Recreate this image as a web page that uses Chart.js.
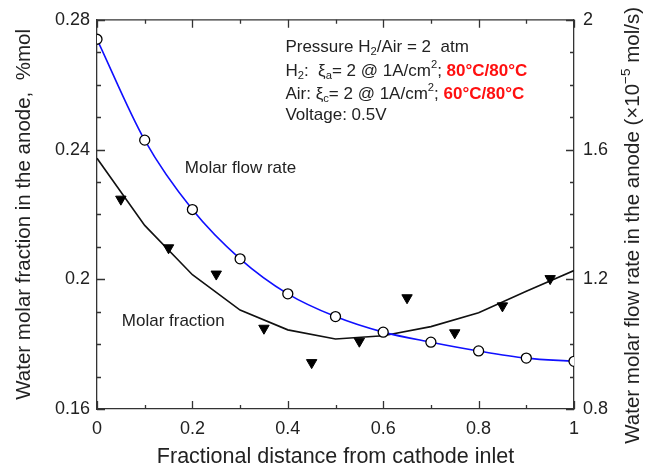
<!DOCTYPE html>
<html><head><meta charset="utf-8">
<script src="https://cdn.jsdelivr.net/npm/chart.js@4.4.1/dist/chart.umd.min.js"></script>
<style>html,body{margin:0;padding:0;background:#fff}#wrap{width:655px;height:468px}</style>
</head><body><div id="wrap"><canvas id="c" width="655" height="468"></canvas></div>
<script>
// ---- data ----
const positions = [0, 0.1, 0.2, 0.3, 0.4, 0.5, 0.6, 0.7, 0.8, 0.9, 1.0];
const flowRate = [1.940, 1.629, 1.415, 1.263, 1.155, 1.085, 1.037, 1.006, 0.979, 0.957, 0.947];
const fractionModel = [0.2373, 0.2166, 0.2014, 0.1905, 0.1844, 0.1816, 0.1826, 0.1854, 0.1897, 0.1963, 0.2027];
const measuredPositions = [0.05, 0.15, 0.25, 0.35, 0.45, 0.55, 0.65, 0.75, 0.85, 0.95];
const fractionMeasured = [0.2247, 0.2097, 0.2016, 0.1849, 0.1743, 0.1809, 0.1943, 0.1835, 0.1918, 0.2002];
const xTickLabels = ['0', '0.2', '0.4', '0.6', '0.8', '1'];
const leftTickLabels = ['0.16', '0.2', '0.24', '0.28'];
const rightTickLabels = ['0.8', '1.2', '1.6', '2'];

const FONT = '"Liberation Sans", Arial, Helvetica, sans-serif';
const INK = '#222';
const FRAME = '#333';

function labelFor(list, v) {
  const hit = list.find(s => Math.abs(parseFloat(s) - v) < 1e-6);
  return hit === undefined ? '' : hit;
}
function isMajor(list, v) { return labelFor(list, v) !== ''; }

function drawRich(ctx, segs, x, y, size) {
  let cx = x;
  ctx.textBaseline = 'middle';
  ctx.textAlign = 'left';
  for (const s of segs) {
    const small = s.sub || s.sup;
    const fs = small ? size * 0.66 : size;
    ctx.font = (s.bold ? 'bold ' : '') + fs + 'px ' + FONT;
    ctx.fillStyle = s.color || INK;
    const dy = s.sub ? size * 0.32 : (s.sup ? -size * 0.32 : 0);
    ctx.fillText(s.t, cx, y + dy);
    cx += ctx.measureText(s.t).width;
  }
  return cx - x;
}
function richWidth(ctx, segs, size) {
  let w = 0;
  for (const s of segs) {
    const small = s.sub || s.sup;
    const fs = small ? size * 0.66 : size;
    ctx.font = (s.bold ? 'bold ' : '') + fs + 'px ' + FONT;
    w += ctx.measureText(s.t).width;
  }
  return w;
}

const RED = '#ff1010';
const infoLines = [
  [{t: 'Pressure H'}, {t: '2', sub: true}, {t: '/Air = 2  atm'}],
  [{t: 'H'}, {t: '2', sub: true}, {t: ':  ξ'}, {t: 'a', sub: true}, {t: '= 2 @ 1A/cm'}, {t: '2', sup: true}, {t: '; '}, {t: '80°C/80°C', bold: true, color: RED}],
  [{t: 'Air: ξ'}, {t: 'c', sub: true}, {t: '= 2 @ 1A/cm'}, {t: '2', sup: true}, {t: '; '}, {t: '60°C/80°C', bold: true, color: RED}],
  [{t: 'Voltage: 0.5V'}]
];
const rightTitle = [{t: 'Water molar flow rate in the anode (×10'}, {t: '−5', sup: true}, {t: ' mol/s)'}];

const decorPlugin = {
  id: 'decor',
  afterDraw(chart) {
    const {ctx, chartArea: a, scales} = chart;
    const x = scales.x, y = scales.y, y1 = scales.y1;
    ctx.save();
    ctx.strokeStyle = FRAME;
    ctx.lineWidth = 1.3;
    ctx.beginPath();
    ctx.moveTo(a.left, a.top); ctx.lineTo(a.right, a.top);
    ctx.stroke();
    ctx.beginPath();
    x.ticks.forEach(t => {
      const px = Math.round(x.getPixelForValue(t.value)) + 0.5;
      const L = isMajor(xTickLabels, t.value) ? 8 : 4;
      ctx.moveTo(px, a.bottom); ctx.lineTo(px, a.bottom - L);
      ctx.moveTo(px, a.top); ctx.lineTo(px, a.top + L);
    });
    y.ticks.forEach(t => {
      const py = Math.round(y.getPixelForValue(t.value)) + 0.5;
      const L = isMajor(leftTickLabels, t.value) ? 8 : 4;
      ctx.moveTo(a.left, py); ctx.lineTo(a.left + L, py);
    });
    y1.ticks.forEach(t => {
      const py = Math.round(y1.getPixelForValue(t.value)) + 0.5;
      const L = isMajor(rightTickLabels, t.value) ? 8 : 4;
      ctx.moveTo(a.right, py); ctx.lineTo(a.right - L, py);
    });
    ctx.stroke();

    // info text block
    const ix = x.getPixelForValue(0.395);
    const iy0 = y.getPixelForValue(0.2712) - 1.5;
    const gaps = [0, 24, 47, 68];
    infoLines.forEach((segs, i) => drawRich(ctx, segs, ix, iy0 + gaps[i], 17));

    // curve labels
    drawRich(ctx, [{t: 'Molar flow rate'}], x.getPixelForValue(0.184), y.getPixelForValue(0.2343), 17);
    drawRich(ctx, [{t: 'Molar fraction'}], x.getPixelForValue(0.052), y.getPixelForValue(0.1870), 17);

    // right axis title (reads bottom-to-top)
    const size = 20.5;
    const w = richWidth(ctx, rightTitle, size);
    ctx.translate(633, (a.top + a.bottom) / 2 + 11);
    ctx.rotate(-Math.PI / 2);
    drawRich(ctx, rightTitle, -w / 2, 0, size);
    ctx.restore();
  }
};

const tickFont = {family: FONT, size: 18};

new Chart(document.getElementById('c'), {
  type: 'scatter',
  data: {
    datasets: [
      {
        label: 'Measured molar fraction',
        data: measuredPositions.map((p, i) => ({x: p, y: fractionMeasured[i]})),
        yAxisID: 'y',
        showLine: false,
        pointStyle: 'triangle',
        rotation: 180,
        pointRadius: 6,
        pointBackgroundColor: '#000',
        pointBorderColor: '#000',
        pointBorderWidth: 1,
        order: 0
      },
      {
        label: 'Molar flow rate',
        data: positions.map((p, i) => ({x: p, y: flowRate[i]})),
        yAxisID: 'y1',
        showLine: true,
        borderColor: '#1010ff',
        borderWidth: 1.6,
        cubicInterpolationMode: 'monotone',
        pointStyle: 'circle',
        pointRadius: 5,
        pointBackgroundColor: '#fff',
        pointBorderColor: '#000',
        pointBorderWidth: 1.3,
        order: 1
      },
      {
        label: 'Molar fraction',
        data: positions.map((p, i) => ({x: p, y: fractionModel[i]})),
        yAxisID: 'y',
        showLine: true,
        borderColor: '#111',
        borderWidth: 1.6,
        tension: 0,
        pointRadius: 0,
        order: 2
      }
    ]
  },
  options: {
    responsive: false,
    animation: false,
    devicePixelRatio: 1,
    layout: {padding: {top: 15, left: 0, right: 0, bottom: 0}},
    plugins: {legend: {display: false}, tooltip: {enabled: false}},
    scales: {
      x: {
        type: 'linear', position: 'bottom', min: 0, max: 1,
        afterFit(s) { s.height = 59; },
        grid: {display: false, drawTicks: false},
        border: {display: true, color: FRAME, width: 1.3},
        ticks: {stepSize: 0.1, autoSkip: false, maxRotation: 0, padding: 9, color: INK, font: tickFont,
          callback: v => labelFor(xTickLabels, v)},
        title: {display: true, text: 'Fractional distance from cathode inlet', color: INK,
          font: {family: FONT, size: 21.5, lineHeight: 1}, padding: {top: 0, bottom: 0}}
      },
      y: {
        type: 'linear', position: 'left', min: 0.16, max: 0.28,
        afterFit(s) { s.width = 97; },
        grid: {display: false, drawTicks: false},
        border: {display: true, color: FRAME, width: 1.3},
        ticks: {stepSize: 0.01, autoSkip: false, padding: 7, color: INK, font: tickFont,
          callback: v => labelFor(leftTickLabels, v)},
        title: {display: true, text: 'Water molar fraction in the anode,  %mol', color: INK,
          font: {family: FONT, size: 20.5, lineHeight: 1}, padding: {top: 14.5, bottom: 0}}
      },
      y1: {
        type: 'linear', position: 'right', min: 0.8, max: 2,
        afterFit(s) { s.width = 81; },
        grid: {display: false, drawTicks: false},
        border: {display: true, color: FRAME, width: 1.3},
        ticks: {stepSize: 0.1, autoSkip: false, padding: 9, color: INK, font: tickFont,
          callback: v => labelFor(rightTickLabels, v)}
      }
    }
  },
  plugins: [decorPlugin]
});
</script>
</body></html>
